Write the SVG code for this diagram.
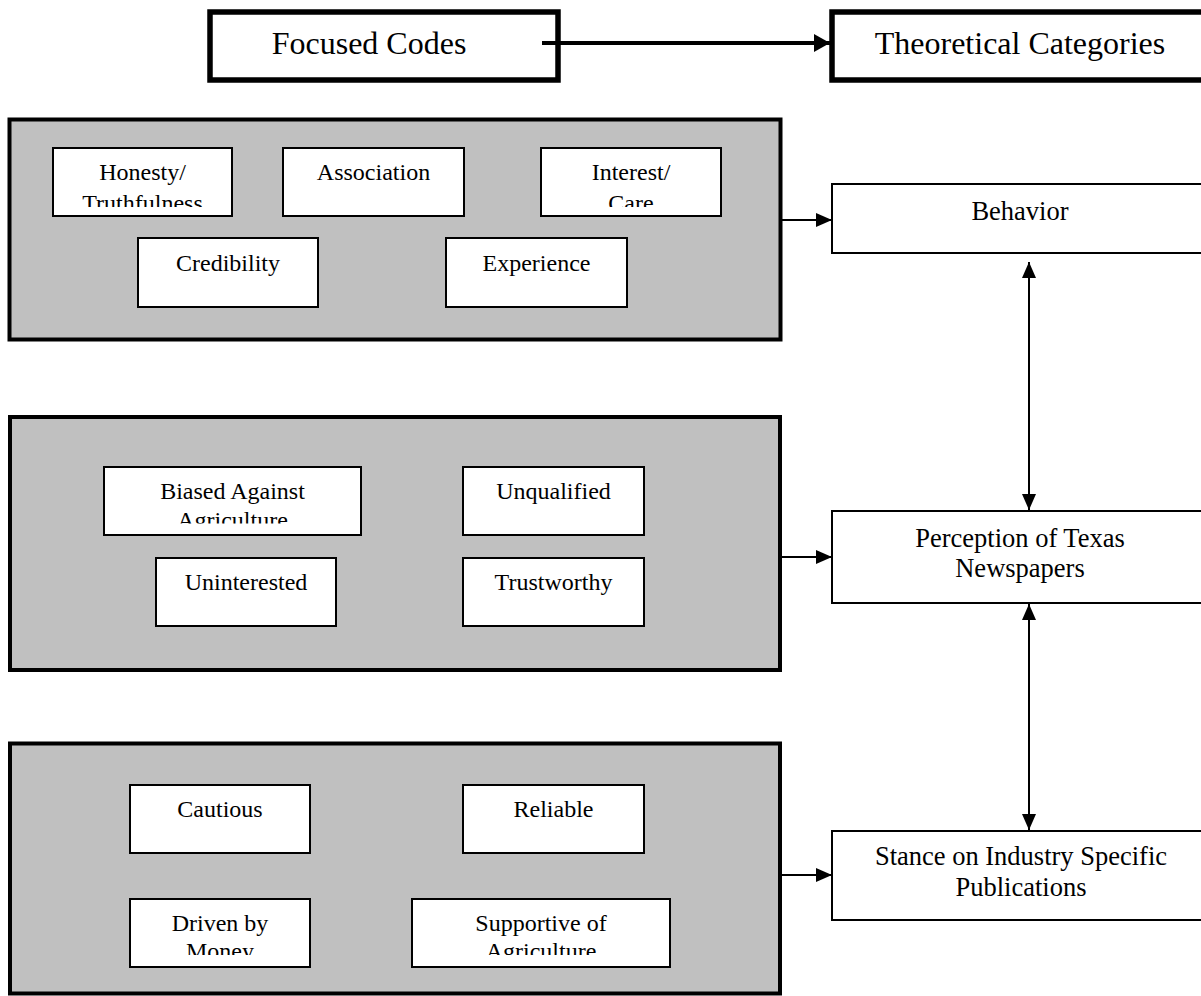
<svg xmlns="http://www.w3.org/2000/svg" width="1201" height="996" viewBox="0 0 1201 996">
<style>
  .hdr { fill: #ffffff; stroke: #000000; stroke-width: 5.5; }
  .grp { fill: #c0c0c0; stroke: #000000; stroke-width: 4; }
  .code { fill: #ffffff; stroke: #000000; stroke-width: 2; }
  .cat { fill: #ffffff; stroke: #000000; stroke-width: 2; }
  text { font-family: "Liberation Serif", "Times New Roman", serif; fill: #000000; text-anchor: middle; }
  .th { font-size: 32px; }
  .tc { font-size: 26.5px; }
  .tk { font-size: 24px; }
  .ln { stroke: #000000; stroke-width: 2; fill: none; }
  .lnb { stroke: #000000; stroke-width: 4; fill: none; }
</style>
<defs>
  <marker id="ah" markerUnits="userSpaceOnUse" markerWidth="16" markerHeight="16" viewBox="0 0 16 16" refX="16" refY="8" orient="auto-start-reverse">
    <path d="M0,1 L16,8 L0,15 Z" fill="#000000"/>
  </marker>
  <marker id="ahb" markerUnits="userSpaceOnUse" markerWidth="16" markerHeight="20" viewBox="0 0 16 20" refX="16" refY="10" orient="auto">
    <path d="M0,1 L16,10 L0,19 Z" fill="#000000"/>
  </marker>
  <clipPath id="c1"><rect x="53" y="148" width="179" height="59"/></clipPath>
  <clipPath id="c2"><rect x="541" y="148" width="180" height="59"/></clipPath>
  <clipPath id="c3"><rect x="104" y="467" width="257" height="56.5"/></clipPath>
  <clipPath id="c4"><rect x="130" y="899" width="180" height="56"/></clipPath>
  <clipPath id="c5"><rect x="412" y="899" width="258" height="56"/></clipPath>
</defs>

<g id="header-focused-codes">
  <rect class="hdr" x="210" y="12" width="348" height="68"/>
  <text class="th" x="369" y="54">Focused Codes</text>
</g>
<g id="header-theoretical-categories">
  <rect class="hdr" x="832" y="12" width="400" height="68"/>
  <text class="th" x="1020" y="54">Theoretical Categories</text>
</g>

<g id="group1">
  <rect class="grp" x="9.5" y="119.5" width="771" height="220"/>
  <g id="honesty">
    <rect class="code" x="53" y="148" width="179" height="68"/>
    <g clip-path="url(#c1)">
      <text class="tk" x="142.5" y="180">Honesty/</text>
      <text class="tk" x="142.5" y="211">Truthfulness</text>
    </g>
  </g>
  <g id="association">
    <rect class="code" x="283" y="148" width="181" height="68"/>
    <text class="tk" x="373.5" y="180">Association</text>
  </g>
  <g id="interest">
    <rect class="code" x="541" y="148" width="180" height="68"/>
    <g clip-path="url(#c2)">
      <text class="tk" x="631" y="180">Interest/</text>
      <text class="tk" x="631" y="211">Care</text>
    </g>
  </g>
  <g id="credibility">
    <rect class="code" x="138" y="238" width="180" height="69"/>
    <text class="tk" x="228" y="271">Credibility</text>
  </g>
  <g id="experience">
    <rect class="code" x="446" y="238" width="181" height="69"/>
    <text class="tk" x="536.5" y="271">Experience</text>
  </g>
</g>

<g id="group2">
  <rect class="grp" x="10" y="417" width="770" height="253"/>
  <g id="biased">
    <rect class="code" x="104" y="467" width="257" height="68"/>
    <g clip-path="url(#c3)">
      <text class="tk" x="232.5" y="499">Biased Against</text>
      <text class="tk" x="232.5" y="528">Agriculture</text>
    </g>
  </g>
  <g id="unqualified">
    <rect class="code" x="463" y="467" width="181" height="68"/>
    <text class="tk" x="553.5" y="499">Unqualified</text>
  </g>
  <g id="uninterested">
    <rect class="code" x="156" y="558" width="180" height="68"/>
    <text class="tk" x="246" y="590">Uninterested</text>
  </g>
  <g id="trustworthy">
    <rect class="code" x="463" y="558" width="181" height="68"/>
    <text class="tk" x="553.5" y="590">Trustworthy</text>
  </g>
</g>

<g id="group3">
  <rect class="grp" x="10" y="743.5" width="770" height="250"/>
  <g id="cautious">
    <rect class="code" x="130" y="785" width="180" height="68"/>
    <text class="tk" x="220" y="817">Cautious</text>
  </g>
  <g id="reliable">
    <rect class="code" x="463" y="785" width="181" height="68"/>
    <text class="tk" x="553.5" y="817">Reliable</text>
  </g>
  <g id="driven">
    <rect class="code" x="130" y="899" width="180" height="68"/>
    <g clip-path="url(#c4)">
      <text class="tk" x="220" y="931">Driven by</text>
      <text class="tk" x="220" y="959">Money</text>
    </g>
  </g>
  <g id="supportive">
    <rect class="code" x="412" y="899" width="258" height="68"/>
    <g clip-path="url(#c5)">
      <text class="tk" x="541" y="931">Supportive of</text>
      <text class="tk" x="541" y="959">Agriculture</text>
    </g>
  </g>
</g>

<g id="behavior">
  <rect class="cat" x="832" y="184" width="400" height="69"/>
  <text class="tc" x="1020" y="220">Behavior</text>
</g>
<g id="perception">
  <rect class="cat" x="832" y="511" width="400" height="92"/>
  <text class="tc" x="1020" y="547">Perception of Texas</text>
  <text class="tc" x="1020" y="577">Newspapers</text>
</g>
<g id="stance">
  <rect class="cat" x="832" y="831" width="400" height="89"/>
  <text class="tc" x="1021" y="865">Stance on Industry Specific</text>
  <text class="tc" x="1021" y="896">Publications</text>
</g>

<g id="connectors">
  <line class="lnb" x1="542" y1="43" x2="830" y2="43" marker-end="url(#ahb)"/>
  <line class="ln" x1="780" y1="220" x2="832" y2="220" marker-end="url(#ah)"/>
  <line class="ln" x1="780" y1="557" x2="832" y2="557" marker-end="url(#ah)"/>
  <line class="ln" x1="780" y1="875" x2="832" y2="875" marker-end="url(#ah)"/>
  <line class="ln" x1="1029" y1="262" x2="1029" y2="510" marker-start="url(#ah)" marker-end="url(#ah)"/>
  <line class="ln" x1="1029" y1="604" x2="1029" y2="830" marker-start="url(#ah)" marker-end="url(#ah)"/>
</g>
</svg>
